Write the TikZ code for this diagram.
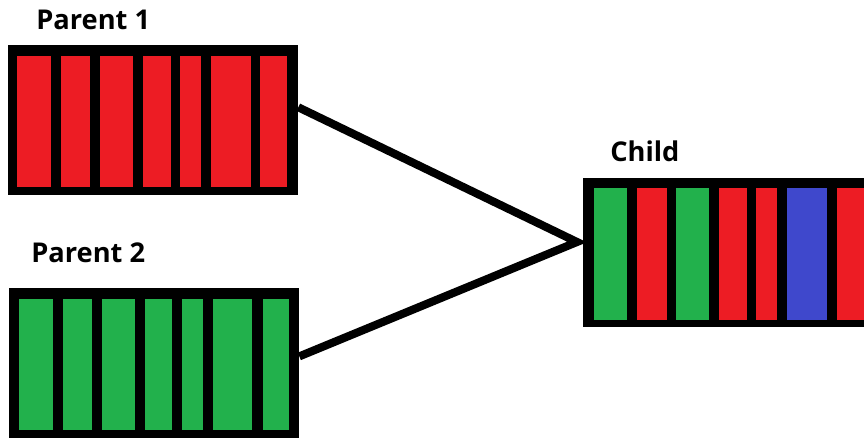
\documentclass[tikz,border=0pt]{standalone}
\usepackage{fontspec}
\setmainfont{Open Sans}

\definecolor{genered}{HTML}{ED1C24}
\definecolor{genegreen}{HTML}{22B14C}
\definecolor{geneblue}{HTML}{3F48CC}

\begin{document}
\begin{tikzpicture}[x=0.02cm, y=-0.02cm,
    chromo/.style={fill=black, inner sep=0pt, minimum height=3cm},
    tag/.style={anchor=base west, inner sep=0pt, font=\bfseries\fontsize{15.5}{17}\selectfont},
    link/.style={line width=4.6pt}]
        \clip (0,0) rectangle (864,438);

        % Draw chromosomes
        \node[chromo, minimum width=5.8cm] (p1) at (153,120) {};
        \node[chromo, minimum width=5.8cm, minimum height=3.04cm] (p2) at (154,364) {};
        \node[chromo, minimum width=6cm, minimum height=2.98cm] (child) at (733,252.5) {};

        % Draw genes
        \foreach \a/\b in {17/51, 61/90, 100/133, 143/171, 180/201, 211/251, 260/287}
            \fill[genered] (\a,56) rectangle (\b,187);
        \foreach \a/\b in {19/53, 63/92, 102/135, 145/172, 182/203, 213/252, 263/289}
            \fill[genegreen] (\a,299) rectangle (\b,430);
        \foreach \a/\b/\c in {594/627/genegreen, 637/667/genered, 676/709/genegreen,
                              719/747/genered, 756/777/genered, 787/827/geneblue, 837/875/genered}
            \fill[\c] (\a,188) rectangle (\b,320);

        % Draw labels
        \node[tag] (t1) at (36,30) {Parent 1};
        \node[tag] (t2) at (31,263) {Parent 2};
        \node[tag] (t3) at (610,162) {Child};

        % Draw crossover
        \coordinate (join) at (577,242);
        \draw[link] (p1.5) -- (join) -- (p2.3);
    \end{tikzpicture}
\end{document}
